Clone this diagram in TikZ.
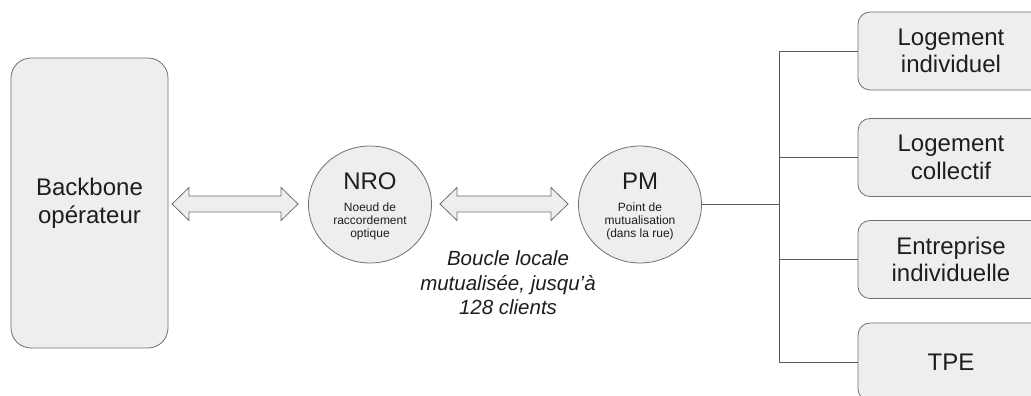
\documentclass[tikz,border=0pt]{standalone}
\usepackage{fontspec}
\setmainfont{Liberation Sans}
\usetikzlibrary{calc,shapes.geometric}
\definecolor{boxfill}{HTML}{EEEEEE}
\definecolor{boxline}{HTML}{707070}
\definecolor{connline}{HTML}{595959}
\definecolor{txt}{HTML}{1E1E1E}
\newcommand\drawfatarrow[2]{%
  \draw[fatarrow] (#1) -- ++(17,16.5) -- ++(0,-8.5) -- ($(#2)+(-17,8)$) -- ++(0,8.5) -- (#2)
    -- ++(-17,-16.5) -- ++(0,8.5) -- ($(#1)+(17,-8)$) -- ++(0,-8.5) -- cycle;}
\begin{document}
\begin{tikzpicture}[x=1pt,y=1pt,
  every node/.style={text=txt},
  bigbox/.style={draw=boxline,fill=boxfill,line width=0.8pt,rounded corners=20pt,
    minimum width=157pt,minimum height=290pt,align=center,
    font=\fontsize{24}{27.6}\selectfont},
  clientbox/.style={draw=boxline,fill=boxfill,line width=0.8pt,rounded corners=12pt,
    minimum width=186pt,minimum height=78pt,align=center,inner sep=0pt,
    font=\fontsize{24}{27.6}\selectfont},
  hubnode/.style={ellipse,draw=boxline,fill=boxfill,line width=0.8pt,
    minimum width=123pt,minimum height=117pt,inner sep=0pt},
  hubtitle/.style={font=\fontsize{24}{27.6}\selectfont,inner sep=0pt,anchor=base},
  hubsub/.style={font=\fontsize{12}{13}\selectfont,align=center,inner sep=0pt},
  fatarrow/.style={draw=boxline,fill=boxfill,line width=0.8pt,line join=miter},
  conn/.style={draw=connline,line width=0.8pt}]
\useasboundingbox (0,0) rectangle (1031,396);
\clip (0,0) rectangle (1031,396);
\fill[white] (0,0) rectangle (1031,396);
% backbone
\node[bigbox] (bb) at (89.5,193) {Backbone\\op\'erateur};
% NRO
\node[hubnode] (nro) at (370,191.5) {};
\node[hubtitle] (nrot) at ($(nro.center)+(0,14.5)$) {NRO};
\node[hubsub] (nros) at ($(nro.center)+(0,-17)$) {Noeud de\\raccordement\\optique};
% PM
\node[hubnode] (pm) at (640,191.5) {};
\node[hubtitle] (pmt) at ($(pm.center)+(0,14.5)$) {PM};
\node[hubsub] (pms) at ($(pm.center)+(0,-17)$) {Point de\\mutualisation\\(dans la rue)};
% label
\node[font=\fontsize{20.5}{24.5}\selectfont\itshape,align=center] (lbl) at (508,113)
  {Boucle locale\\mutualis\'ee, jusqu’\`a\\128 clients};
% clients
\node[clientbox] (c1) at (951,345) {Logement\\individuel};
\node[clientbox] (c2) at (951,238.5) {Logement\\collectif};
\node[clientbox] (c3) at (951,136.5) {Entreprise\\individuelle};
\node[clientbox] (c4) at (951,34) {TPE};
% arrows
\coordinate (a1l) at (172,192);
\coordinate (a1r) at (298,192);
\coordinate (a2l) at (440,192);
\coordinate (a2r) at (568,192);
\drawfatarrow{a1l}{a1r}
\drawfatarrow{a2l}{a2r}
% tree connectors
\coordinate (hub) at (779,192);
\draw[conn] (pm.east |- hub) -- (hub);
\draw[conn] (c1.west -| hub) -- (c4.west -| hub);
\draw[conn] (c1.west -| hub) -- (c1.west);
\draw[conn] (c2.west -| hub) -- (c2.west);
\draw[conn] (c3.west -| hub) -- (c3.west);
\draw[conn] (c4.west -| hub) -- (c4.west);
\end{tikzpicture}
\end{document}
